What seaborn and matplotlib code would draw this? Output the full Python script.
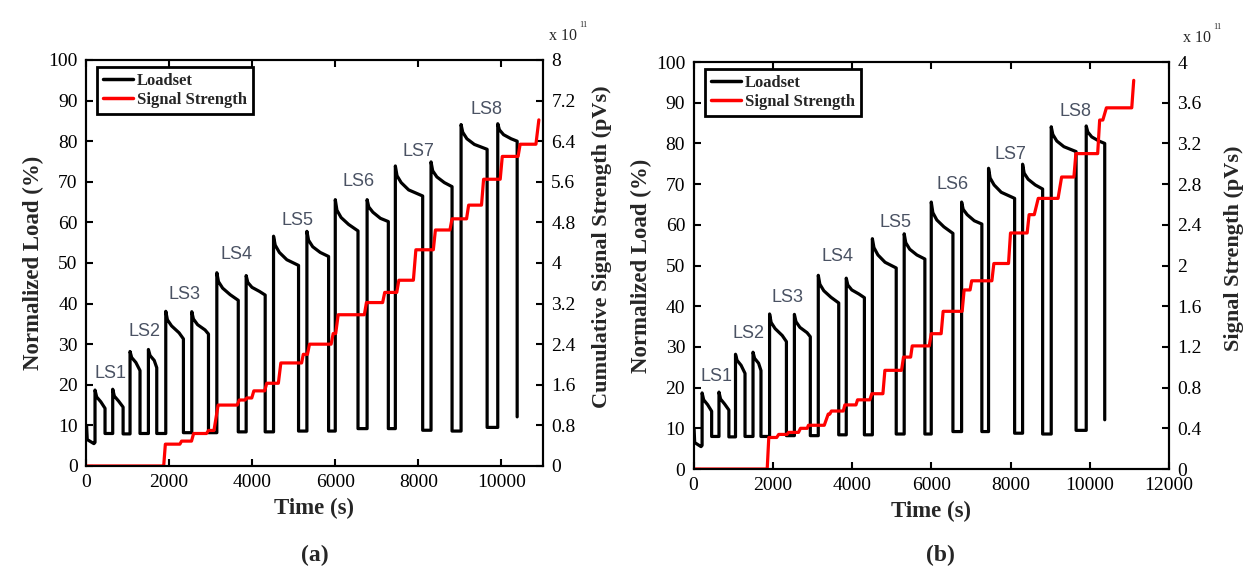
import numpy as np
import pandas as pd
import matplotlib
matplotlib.use("Agg")
import matplotlib.pyplot as plt
from matplotlib.lines import Line2D
import seaborn as sns

sns.set_theme(style="ticks")
plt.rcParams["font.family"] = ["Liberation Serif", "DejaVu Serif"]

# ---------------- load history (same in both panels) ----------------
start_t = [0, 15, 30, 190, 217]
start_v = [9.8, 9.8, 6.5, 5.5, 5.8]

cyc_on = [217, 643, 1060, 1502, 1920, 2546, 3149, 3855, 4514, 5317,
          6000, 6766, 7446, 8305, 9028, 9911]
cyc_off = [458, 893, 1300, 1703, 2345, 2948, 3665, 4313, 5116, 5839,
           6547, 7277, 8104, 8811, 9655, 10378]
cyc_peak = [18.7, 18.9, 28.2, 28.7, 38.1, 38.0, 47.6, 46.9, 56.6, 57.8,
            65.6, 65.6, 73.9, 74.9, 84.1, 84.3]
cyc_early = [17.0, 17.2, 26.7, 27.2, 36.0, 36.2, 45.4, 45.2, 54.4, 55.6,
             63.0, 63.8, 71.5, 72.7, 82.2, 82.8]
cyc_knee = [15.8, 16.0, 25.5, 26.0, 34.5, 34.8, 43.8, 44.0, 52.6, 54.0,
            61.2, 62.5, 69.8, 71.2, 80.6, 81.6]
cyc_mid = [15.0, 15.3, 24.8, 25.2, 32.8, 33.5, 42.2, 43.0, 50.8, 52.6,
           59.5, 61.0, 68.0, 69.8, 79.2, 80.6]
cyc_end = [14.2, 14.5, 23.5, 24.2, 31.3, 32.5, 40.8, 42.1, 49.4, 51.6,
           57.9, 60.2, 66.5, 68.8, 78.0, 80.0]
cyc_base = [8.0, 7.9, 8.0, 8.0, 8.2, 8.2, 8.4, 8.4, 8.6, 8.6,
            9.2, 9.2, 8.8, 8.6, 9.5, 12.1]
early_dt, knee_dt, mid_dt = 40, 140, 320

ls_names = ["LS1", "LS2", "LS3", "LS4", "LS5", "LS6", "LS7", "LS8"]
ls_t = [580, 1400, 2380, 3630, 5100, 6550, 7995, 9645]
ls_v = [22.8, 33.2, 42.2, 52.2, 60.5, 70.0, 77.4, 87.8]

# ---------------- signal strength (x 1e11 pVs) ----------------
# (a) cumulative signal: hold start, hold end, level
sig_a_t0 = [0, 1910, 2300, 2590, 2950, 3180, 3690, 3870, 4040, 4350, 4690,
            5230, 5380, 5950, 6070, 6750, 7190, 7530, 7940, 8410, 8810,
            9210, 9570, 10020, 10450, 10900]
sig_a_t1 = [1870, 2260, 2540, 2900, 3080, 3640, 3830, 3990, 4300, 4630, 5190,
            5330, 5900, 6010, 6700, 7140, 7480, 7880, 8360, 8760, 9160,
            9520, 9970, 10400, 10830, 10900]
sig_a_v = [0.0, 0.43, 0.49, 0.64, 0.70, 1.20, 1.30, 1.34, 1.48, 1.63, 2.03,
           2.20, 2.40, 2.61, 2.98, 3.22, 3.42, 3.66, 4.26, 4.65, 4.87,
           5.14, 5.65, 6.10, 6.34, 6.82]

# (b) signal strength
sig_b_t0 = [0, 1900, 2150, 2400, 2700, 2900, 3400, 3480, 3820, 4140, 4500,
            4830, 5300, 5520, 6000, 6300, 6830, 7020, 7580, 8000, 8470,
            8700, 9290, 9650, 10250, 10420, 11110]
sig_b_t1 = [1860, 2100, 2360, 2650, 2870, 3300, 3440, 3780, 4100, 4450, 4780,
            5250, 5480, 5950, 6250, 6780, 6980, 7530, 7950, 8420, 8600,
            9200, 9600, 10200, 10330, 11060, 11110]
sig_b_v = [0.0, 0.31, 0.34, 0.36, 0.40, 0.43, 0.54, 0.57, 0.63, 0.68, 0.74,
           0.97, 1.10, 1.21, 1.33, 1.55, 1.76, 1.85, 2.02, 2.32, 2.50,
           2.66, 2.87, 3.10, 3.43, 3.55, 3.82]


def load_path():
    t, v = list(start_t), list(start_v)
    for i in range(len(cyc_on)):
        on, off = cyc_on[i], cyc_off[i]
        if i > 0:
            t.append(on); v.append(cyc_base[i - 1])
        t += [on, on + early_dt, on + knee_dt]
        v += [cyc_peak[i], cyc_early[i], cyc_knee[i]]
        if on + mid_dt < off - 40:
            t.append(on + mid_dt); v.append(cyc_mid[i])
        t += [off, off]
        v += [cyc_end[i], cyc_base[i]]
    return pd.DataFrame({"t": t, "v": v})


def step_path(t0, t1, lv):
    t, v = [], []
    for a, b, c in zip(t0, t1, lv):
        t += [a, b]
        v += [c, c]
    return pd.DataFrame({"t": t, "v": v})


load_df = load_path()
sig_a = step_path(sig_a_t0, sig_a_t1, sig_a_v)
sig_b = step_path(sig_b_t0, sig_b_t1, sig_b_v)

fig = plt.figure(figsize=(12.5, 5.74), dpi=100)

panels = [
    dict(rect=[0.0688, 0.1882, 0.3656, 0.7073], xmax=11000, xticks=range(0, 10001, 2000),
         sig=sig_a, ymax2=8, step2=0.8, ylab2="Cumulative Signal Strength (pVs)",
         lab2_xy=(1.107, 0.54), exp_xy=(549, 36), cap="(a)", cap_x=315),
    dict(rect=[0.5548, 0.1829, 0.3804, 0.7090], xmax=12000, xticks=range(0, 12001, 2000),
         sig=sig_b, ymax2=4, step2=0.4, ylab2="Signal Strength (pVs)",
         lab2_xy=(1.115, 0.543), exp_xy=(1183, 38), cap="(b)", cap_x=940),
]

for p in panels:
    ax = fig.add_axes(p["rect"])
    sns.lineplot(data=load_df, x="t", y="v", sort=False, estimator=None,
                 color="black", lw=2.3, ax=ax, solid_joinstyle="round")
    ax.set_xlim(0, p["xmax"])
    ax.set_ylim(0, 100)
    ax.set_xticks(list(p["xticks"]))
    ax.set_yticks(range(0, 101, 10))
    ax.tick_params(direction="in", length=5, width=1.5, top=True, right=False,
                   labelsize=14, pad=6, colors="black")
    ax.set_xlabel("Time (s)", fontsize=16.5, fontweight="bold", labelpad=5)
    ax.set_ylabel("Normalized Load (%)", fontsize=16.5, fontweight="bold", labelpad=3)
    for name, tx, ty in zip(ls_names, ls_t, ls_v):
        ax.text(tx, ty, name, fontsize=13, color="#4a5263", ha="center",
                va="center", family="Liberation Sans")

    ax2 = ax.twinx()
    sns.lineplot(data=p["sig"], x="t", y="v", sort=False, estimator=None,
                 color="#ff0000", lw=2.3, ax=ax2)
    ax2.set_ylim(0, p["ymax2"])
    ticks2 = np.round(np.arange(0, p["ymax2"] + 1e-9, p["step2"]), 2)
    ax2.set_yticks(ticks2)
    ax2.set_yticklabels([f"{v:g}" for v in ticks2])
    ax2.tick_params(direction="in", length=5, width=1.5, labelsize=14, pad=6,
                    colors="black")
    ax2.set_ylabel(p["ylab2"], fontsize=16, fontweight="bold")
    ax2.yaxis.set_label_coords(*p["lab2_xy"])
    for a in (ax, ax2):
        for s in a.spines.values():
            s.set_linewidth(1.5)
            s.set_color("black")

    handles = [Line2D([], [], color="black", lw=2.5),
               Line2D([], [], color="#ff0000", lw=2.5)]
    leg = ax2.legend(handles, ["Loadset", "Signal Strength"], loc="upper left",
                     bbox_to_anchor=(0.024, 0.983), borderaxespad=0,
                     prop={"weight": "bold", "size": 12}, handlelength=1.8,
                     handletextpad=0.25, borderpad=0.35, labelspacing=0.2,
                     fancybox=False, framealpha=1, edgecolor="black")
    leg.get_frame().set_linewidth(2)

    ex, ey = p["exp_xy"]
    fig.text(ex / 1250, 1 - ey / 574, "x 10", fontsize=11.5, ha="left", va="center")
    fig.text((ex + 30) / 1250, 1 - (ey - 11) / 574, "11", fontsize=6, ha="left", va="center")
    fig.text(p["cap_x"] / 1250, 1 - 555 / 574, p["cap"], fontsize=17,
             fontweight="bold", ha="center", va="center")

fig.savefig("out.png", dpi=100)
